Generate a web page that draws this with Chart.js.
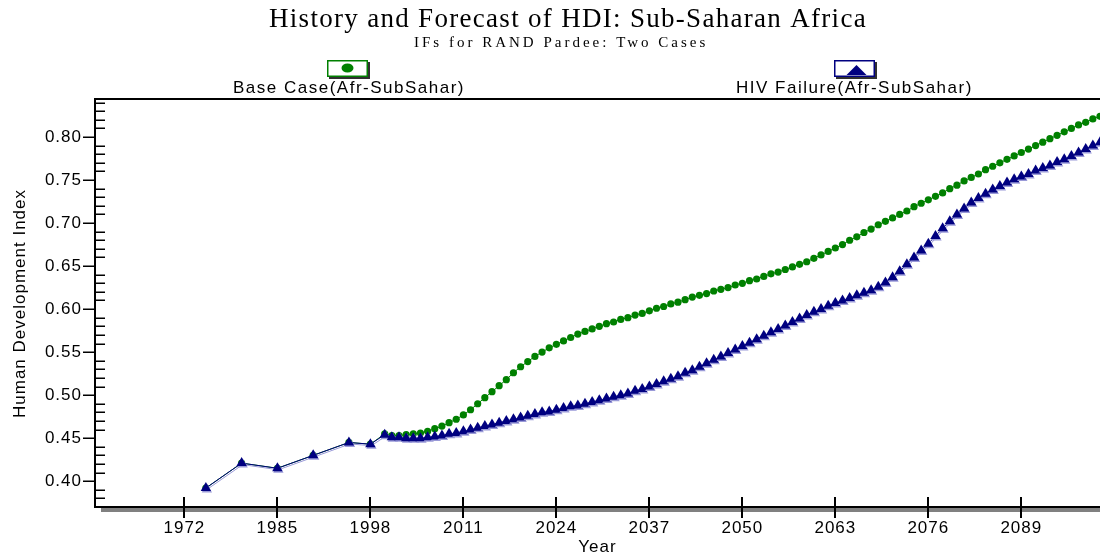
<!DOCTYPE html>
<html>
<head>
<meta charset="utf-8">
<title>History and Forecast of HDI: Sub-Saharan Africa</title>
<script src="https://cdn.jsdelivr.net/npm/chart.js@4.4.1/dist/chart.umd.min.js"></script>
<style>
  html, body { margin: 0; padding: 0; background: #fff; }
  canvas { display: block; }
</style>
</head>
<body>
<canvas id="hdi" width="1106" height="554"></canvas>
<script>
// history points, then the annual forecast 2000-2100
const years = [
  1975, 1980, 1985, 1990, 1995, 1998,
  2000, 2001, 2002, 2003, 2004, 2005, 2006, 2007, 2008, 2009,
  2010, 2011, 2012, 2013, 2014, 2015, 2016, 2017, 2018, 2019,
  2020, 2021, 2022, 2023, 2024, 2025, 2026, 2027, 2028, 2029,
  2030, 2031, 2032, 2033, 2034, 2035, 2036, 2037, 2038, 2039,
  2040, 2041, 2042, 2043, 2044, 2045, 2046, 2047, 2048, 2049,
  2050, 2051, 2052, 2053, 2054, 2055, 2056, 2057, 2058, 2059,
  2060, 2061, 2062, 2063, 2064, 2065, 2066, 2067, 2068, 2069,
  2070, 2071, 2072, 2073, 2074, 2075, 2076, 2077, 2078, 2079,
  2080, 2081, 2082, 2083, 2084, 2085, 2086, 2087, 2088, 2089,
  2090, 2091, 2092, 2093, 2094, 2095, 2096, 2097, 2098, 2099,
  2100
];

const baseCase = [
  0.392, 0.421, 0.415, 0.430, 0.445, 0.443,
  0.455, 0.453, 0.453, 0.454, 0.455, 0.456, 0.458, 0.461, 0.464, 0.468,
  0.472, 0.477, 0.483, 0.490, 0.497, 0.504, 0.511, 0.518, 0.526, 0.533,
  0.539, 0.545, 0.550, 0.555, 0.559, 0.563, 0.567, 0.571, 0.574, 0.577,
  0.580, 0.583, 0.585, 0.588, 0.590, 0.593, 0.595, 0.598, 0.601, 0.603,
  0.606, 0.608, 0.611, 0.614, 0.616, 0.618, 0.621, 0.623, 0.625, 0.628,
  0.630, 0.633, 0.635, 0.638, 0.641, 0.643, 0.646, 0.649, 0.652, 0.655,
  0.659, 0.663, 0.667, 0.671, 0.675, 0.680, 0.684, 0.689, 0.693, 0.698,
  0.702, 0.706, 0.710, 0.714, 0.719, 0.723, 0.727, 0.731, 0.735, 0.740,
  0.744, 0.749, 0.753, 0.757, 0.762, 0.766, 0.770, 0.774, 0.778, 0.782,
  0.786, 0.790, 0.794, 0.798, 0.802, 0.806, 0.810, 0.814, 0.817, 0.821,
  0.824
];

const hivFailure = [
  0.392, 0.421, 0.415, 0.430, 0.445, 0.443,
  0.454, 0.451, 0.451, 0.450, 0.450, 0.450, 0.451, 0.452, 0.453, 0.455,
  0.456, 0.458, 0.460, 0.462, 0.464, 0.466, 0.468, 0.470, 0.472, 0.474,
  0.476, 0.478, 0.480, 0.481, 0.483, 0.485, 0.487, 0.488, 0.490, 0.492,
  0.494, 0.496, 0.498, 0.500, 0.502, 0.505, 0.507, 0.510, 0.513, 0.516,
  0.519, 0.522, 0.526, 0.529, 0.533, 0.537, 0.541, 0.545, 0.549, 0.553,
  0.557, 0.561, 0.565, 0.569, 0.573, 0.577, 0.581, 0.585, 0.589, 0.593,
  0.597, 0.600, 0.604, 0.607, 0.610, 0.613, 0.616, 0.619, 0.622, 0.626,
  0.631, 0.637, 0.644, 0.652, 0.660, 0.668, 0.676, 0.685, 0.694, 0.702,
  0.710, 0.717, 0.724, 0.729, 0.734, 0.739, 0.743, 0.747, 0.751, 0.754,
  0.757, 0.761, 0.764, 0.767, 0.771, 0.774, 0.778, 0.782, 0.786, 0.790,
  0.794
];

const yearTicks = [1972, 1985, 1998, 2011, 2024, 2037, 2050, 2063, 2076, 2089];
const hdiTicks = [0.40, 0.45, 0.50, 0.55, 0.60, 0.65, 0.70, 0.75, 0.80];
const seriesNames = ['Base Case(Afr-SubSahar)', 'HIV Failure(Afr-SubSahar)'];

const chartTitle = 'History and Forecast of HDI: Sub-Saharan Africa';
const chartSubtitle = 'IFs for RAND Pardee: Two Cases';

const points = vals => vals.map((v, i) => ({ x: years[i], y: v }));

const sansFont = '"Liberation Sans", Arial, sans-serif';
const serifFont = '"Liberation Serif", "Times New Roman", serif';
const GREEN = '#008000';
const NAVY = '#000080';

Chart.defaults.font.family = sansFont;
Chart.defaults.color = '#000';

// frame, tick marks and the grey floor under the x axis
const framePlugin = {
  id: 'frame',
  beforeDraw(chart) {
    chart.ctx.letterSpacing = '1px';
  },
  beforeDatasetsDraw(chart) {
    const { ctx, chartArea: a, scales: { x, y } } = chart;
    ctx.save();
    ctx.fillStyle = '#808080';
    ctx.fillRect(a.left + 6, a.bottom + 1, a.right - a.left - 6, 4);

    ctx.strokeStyle = '#000';
    ctx.lineWidth = 2;
    ctx.beginPath();
    ctx.moveTo(a.left - 1, a.top - 1); ctx.lineTo(a.right, a.top - 1);
    ctx.moveTo(a.left, a.top - 2); ctx.lineTo(a.left, a.bottom + 1);
    ctx.moveTo(a.left - 1, a.bottom); ctx.lineTo(a.right, a.bottom);
    ctx.stroke();

    ctx.beginPath();
    yearTicks.forEach(t => {
      const px = Math.round(x.getPixelForValue(t));
      ctx.moveTo(px, a.bottom - 10); ctx.lineTo(px, a.bottom + 11);
    });
    ctx.stroke();

    ctx.lineWidth = 1.5;
    ctx.beginPath();
    hdiTicks.forEach(v => {
      const py = Math.round(y.getPixelForValue(v)) + 0.25;
      ctx.moveTo(a.left - 12, py); ctx.lineTo(a.left, py);
    });
    // minor ticks every 0.01, inside the frame
    for (let k = 38; k <= 84; k++) {
      if (k % 5 === 0) continue;
      const py = Math.round(y.getPixelForValue(k / 100)) + 0.25;
      ctx.moveTo(a.left, py); ctx.lineTo(a.left + 10, py);
    }
    ctx.stroke();
    ctx.restore();
  },
  beforeDatasetDraw(chart, args) {
    if (args.index !== 1) return;
    const ctx = chart.ctx;
    ctx.save();
    ctx.shadowColor = '#9a9ad8';
    ctx.shadowOffsetX = 1;
    ctx.shadowOffsetY = 1.5;
  },
  afterDatasetDraw(chart, args) {
    if (args.index === 1) chart.ctx.restore();
  }
};

// titles and the box-over-label legend
const headerPlugin = {
  id: 'header',
  afterDraw(chart) {
    const ctx = chart.ctx;
    ctx.save();
    ctx.fillStyle = '#000';
    ctx.textAlign = 'left';
    ctx.textBaseline = 'alphabetic';

    ctx.letterSpacing = '1.3px';
    ctx.font = '27px ' + serifFont;
    ctx.fillText(chartTitle, 269, 27);

    ctx.letterSpacing = '3px';
    ctx.font = '15px ' + serifFont;
    ctx.fillText(chartSubtitle, 414, 47);

    const items = [
      { box: 327, text: 233, color: GREEN, marker: 'circle' },
      { box: 834, text: 736, color: NAVY, marker: 'triangle' }
    ];
    items.forEach((it, i) => {
      const bx = it.box, by = 60, bw = 41, bh = 17;
      ctx.fillStyle = '#303030';
      ctx.fillRect(bx + 2, by + 2, bw, bh);
      ctx.fillStyle = '#fff';
      ctx.fillRect(bx, by, bw, bh);
      ctx.strokeStyle = it.color;
      ctx.lineWidth = 1.5;
      ctx.strokeRect(bx + 0.75, by + 0.75, bw - 1.5, bh - 1.5);

      ctx.fillStyle = it.color;
      ctx.beginPath();
      if (it.marker === 'circle') {
        ctx.ellipse(bx + bw / 2, by + 8, 6, 4.5, 0, 0, Math.PI * 2);
      } else {
        const cx = bx + bw / 2 + 2;
        ctx.moveTo(cx - 10, by + 15);
        ctx.lineTo(cx + 10, by + 15);
        ctx.lineTo(cx, by + 5);
        ctx.closePath();
      }
      ctx.fill();

      ctx.fillStyle = '#000';
      ctx.letterSpacing = '1.5px';
      ctx.font = '17px ' + sansFont;
      ctx.fillText(seriesNames[i], it.text, 93);
    });
    ctx.restore();
  }
};

new Chart(document.getElementById('hdi'), {
  type: 'line',
  data: {
    datasets: [
      {
        label: seriesNames[0],
        data: points(baseCase),
        borderColor: GREEN,
        backgroundColor: GREEN,
        borderWidth: 1,
        pointStyle: 'circle',
        pointRadius: 3.6,
        pointBorderWidth: 0,
        order: 1
      },
      {
        label: seriesNames[1],
        data: points(hivFailure),
        borderColor: NAVY,
        backgroundColor: NAVY,
        borderWidth: 1,
        pointStyle: 'triangle',
        pointRadius: 6,
        pointBorderWidth: 0,
        order: 0
      }
    ]
  },
  options: {
    responsive: false,
    animation: false,
    devicePixelRatio: 1,
    layout: { padding: { top: 100, left: 0, right: 0, bottom: 0 } },
    plugins: {
      legend: { display: false },
      title: { display: false },
      tooltip: { enabled: false }
    },
    scales: {
      x: {
        type: 'linear',
        min: 1959.5,
        max: 2100,
        afterBuildTicks: s => { s.ticks = yearTicks.map(v => ({ value: v })); },
        afterFit: s => { s.height = 47; },
        grid: { display: false, drawTicks: false },
        border: { display: false },
        ticks: {
          padding: 11,
          maxRotation: 0,
          autoSkip: false,
          font: { size: 17 },
          callback: v => String(v)
        },
        title: {
          display: true,
          text: 'Year',
          font: { size: 17, lineHeight: 0.8 },
          padding: 0
        }
      },
      y: {
        min: 0.37,
        max: 0.843,
        afterBuildTicks: s => { s.ticks = hdiTicks.map(v => ({ value: v })); },
        afterFit: s => { s.width = 95; },
        grid: { display: false, drawTicks: false },
        border: { display: false },
        ticks: {
          padding: 13,
          font: { size: 17 },
          callback: v => v.toFixed(2)
        },
        title: {
          display: true,
          text: 'Human Development Index',
          font: { size: 17, lineHeight: 1.2 },
          padding: { top: 10, bottom: 0 }
        }
      }
    }
  },
  plugins: [framePlugin, headerPlugin]
});
</script>
</body>
</html>
